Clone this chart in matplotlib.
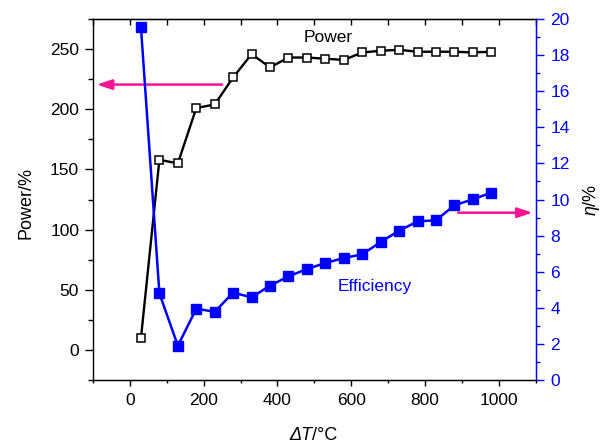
import matplotlib.pyplot as plt
from matplotlib.ticker import MultipleLocator

plt.rcParams['font.family'] = ['Liberation Sans', 'DejaVu Sans']
plt.rcParams['mathtext.fontset'] = 'custom'
plt.rcParams['mathtext.it'] = 'Liberation Sans:italic'
plt.rcParams['mathtext.rm'] = 'Liberation Sans'

# temperature difference (deg C)
delta_t = [30, 80, 130, 180, 230, 280, 330, 380, 430, 480,
           530, 580, 630, 680, 730, 780, 830, 880, 930, 980]
# relative power (%)
power = [10, 158, 155, 201, 204, 226.5, 245.8, 234.8, 243, 243,
         242, 241, 247.2, 248.6, 249.4, 247.8, 247.8, 247.8, 247.2, 247.8]
# efficiency (%)
efficiency = [19.53, 4.8, 1.9, 3.95, 3.78, 4.84, 4.58, 5.23, 5.74, 6.15,
              6.48, 6.76, 6.96, 7.65, 8.27, 8.79, 8.85, 9.68, 10.01, 10.38]

blue = '#0000ff'
pink = '#ff1493'

fig = plt.figure(figsize=(6.1, 4.44), dpi=100)
ax = fig.add_axes([0.1525, 0.1441, 0.7255, 0.8131])
ax2 = ax.twinx()

ax.plot(delta_t, power, color='black', lw=1.7, marker='s', ms=6,
        mfc='white', mec='black', mew=1.1, zorder=3)
ax2.plot(delta_t, efficiency, color=blue, lw=1.8, marker='s', ms=6.5,
         mfc=blue, mec=blue, zorder=3)

ax.set_xlim(-100, 1100)
ax.set_ylim(-25, 275)
ax2.set_ylim(0, 20)

ax.xaxis.set_major_locator(MultipleLocator(200))
ax.xaxis.set_minor_locator(MultipleLocator(100))
ax.yaxis.set_major_locator(MultipleLocator(50))
ax.yaxis.set_minor_locator(MultipleLocator(25))
ax2.yaxis.set_major_locator(MultipleLocator(2))
ax2.yaxis.set_minor_locator(MultipleLocator(1))

ax.tick_params(axis='y', which='major', direction='out', length=5.5, width=1,
               pad=4.5, labelsize=12.5)
ax.tick_params(axis='y', which='minor', direction='out', length=3.5, width=1)
ax.tick_params(axis='x', which='major', direction='out', length=4.5, width=1,
               pad=5, labelsize=12.5, top=False)
ax.tick_params(axis='x', which='minor', direction='out', length=2.5, width=1,
               top=False)

# top spine has small inward ticks every 100
top = ax.secondary_xaxis('top')
top.xaxis.set_major_locator(MultipleLocator(100))
top.tick_params(direction='in', length=4, width=1, labeltop=False)
top.spines['top'].set_linewidth(1)

ax2.tick_params(axis='y', which='major', direction='out', length=5.5, width=1,
                pad=5, labelsize=12.5, colors=blue)
ax2.tick_params(axis='y', which='minor', direction='out', length=3, width=1,
                colors=blue)

for s in ['left', 'bottom']:
    ax.spines[s].set_linewidth(1)
ax2.spines['right'].set_color(blue)
ax2.spines['right'].set_linewidth(1)
ax2.spines['left'].set_visible(False)

ax.set_ylabel('Power/%', fontsize=13, va='center', ha='center')
ax.yaxis.set_label_coords(-0.151, 0.49)
ax2.set_ylabel(r'$\eta$/%', fontsize=13, rotation=90, va='center', ha='center')
ax2.yaxis.set_label_coords(1.126, 0.5)

# x label: italic ΔT followed by upright /°C
t1 = ax.text(0.495, -0.166, 'ΔT', transform=ax.transAxes, fontsize=13,
             style='italic', ha='right', va='baseline')
ax.annotate('/°C', xy=(1, 0), xycoords=t1, fontsize=13, ha='left', va='bottom')

ax.text(538, 260, 'Power', fontsize=12.5, ha='center', va='center')
ax.text(665, 52.6, 'Efficiency', fontsize=12.5, color=blue, ha='center', va='center')

ax.annotate('', xy=(-90, 220.5), xytext=(250, 220.5),
            arrowprops=dict(arrowstyle='-|>,head_length=0.9,head_width=0.3',
                            color=pink, lw=1.8, shrinkA=0, shrinkB=0))
ax2.annotate('', xy=(1092, 9.27), xytext=(890, 9.27),
             arrowprops=dict(arrowstyle='-|>,head_length=0.9,head_width=0.3',
                             color=pink, lw=1.8, shrinkA=0, shrinkB=0))

fig.savefig('out.png', dpi=100)
